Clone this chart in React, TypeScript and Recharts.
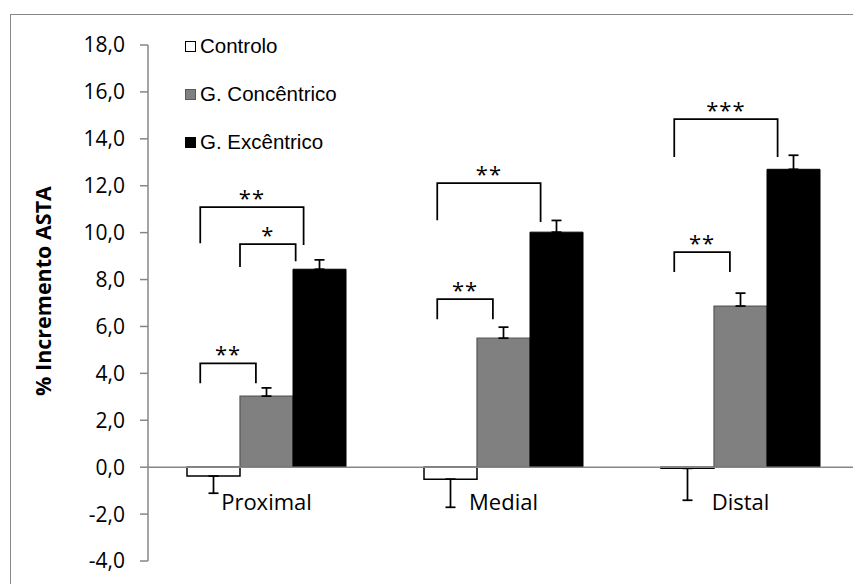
import React from 'react';
import { BarChart, Bar, XAxis, YAxis, ErrorBar, ReferenceLine, Legend, Label, LabelList } from 'recharts';

const categories = ['Proximal', 'Medial', 'Distal'];
const seriesNames = ['Controlo', 'G. Concêntrico', 'G. Excêntrico'];
const controlo = [-0.38, -0.51, -0.05];
const controloErr = [0.73, 1.2, 1.36];
const concentrico = [3.03, 5.5, 6.87];
const concentricoErr = [0.35, 0.47, 0.55];
const excentrico = [8.44, 10.02, 12.7];
const excentricoErr = [0.4, 0.5, 0.6];
const yTicks = [-4, -2, 0, 2, 4, 6, 8, 10, 12, 14, 16, 18];

// significance brackets: category index, compared bars (0 Controlo, 1 Concêntrico, 2 Excêntrico),
// value level of the bracket top and of its left / right leg ends, and the marker text
const brackets = [
  { cat: 0, from: 0, to: 1, top: 4.43, left: 3.58, right: 3.58, label: '**' },
  { cat: 0, from: 1, to: 2, top: 9.51, left: 8.53, right: 8.78, label: '*' },
  { cat: 0, from: 0, to: 2, top: 11.09, left: 9.55, right: 9.47, label: '**' },
  { cat: 1, from: 0, to: 1, top: 7.16, left: 6.31, right: 6.31, label: '**' },
  { cat: 1, from: 0, to: 2, top: 12.11, left: 10.53, right: 10.45, label: '**' },
  { cat: 2, from: 0, to: 1, top: 9.17, left: 8.32, right: 8.32, label: '**' },
  { cat: 2, from: 0, to: 2, top: 14.84, left: 13.22, right: 13.22, label: '***' },
];

const data = categories.map((c, i) => ({
  name: c,
  controlo: controlo[i],
  controloErr: [controloErr[i], 0],
  concentrico: concentrico[i],
  concentricoErr: [0, concentricoErr[i]],
  excentrico: excentrico[i],
  excentricoErr: [0, excentricoErr[i]],
}));

const CAL = '"Open Sans", Lato, sans-serif';
const ARIAL = '"Liberation Sans", Arial, sans-serif';
const AXIS_GREY = '#868686';

const fmt = (v: number) => v.toFixed(1).replace('.', ',');

const renderAnnotations = (props: any) => {
  const vb = props.viewBox || {};
  const index: number = props.index;
  const x: number = vb.x ?? props.x;
  const y: number = vb.y ?? props.y;
  const w: number = vb.width ?? props.width;
  const h: number = vb.height ?? props.height;
  const val = excentrico[index];
  if (!val || !isFinite(x)) return null;
  const ppu = h / val;
  const zeroY = y + h;
  const groupLeft = x - 2 * w;
  const toY = (v: number) => zeroY - v * ppu;
  const leftUnit = (b: any) => (b.from === 0 ? 0.25 : 1.0);
  const rightUnit = (b: any) => (b.to === 1 ? 1.3 : b.from === 1 ? 2.05 : 2.2);
  return (
    <g>
      {brackets
        .filter((b) => b.cat === index)
        .map((b, k) => {
          const x1 = groupLeft + leftUnit(b) * w;
          const x2 = groupLeft + rightUnit(b) * w;
          const yt = toY(b.top);
          return (
            <g key={k}>
              <polyline
                points={`${x1},${toY(b.left)} ${x1},${yt} ${x2},${yt} ${x2},${toY(b.right)}`}
                fill="none"
                stroke="#000"
                strokeWidth={1.75}
              />
              <text
                x={(x1 + x2) / 2}
                y={yt - 1}
                textAnchor="middle"
                fontFamily={CAL}
                fontSize={22}
                fill="#000"
                letterSpacing={1}
              >
                {b.label}
              </text>
            </g>
          );
        })}
      <text
        x={groupLeft + 1.5 * w}
        y={zeroY + 43}
        textAnchor="middle"
        fontFamily={CAL}
        fontSize={22}
        fill="#000"
      >
        {categories[index]}
      </text>
    </g>
  );
};

const legendSwatches = [
  { fill: '#ffffff', stroke: '#000000' },
  { fill: '#808080', stroke: '#595959' },
  { fill: '#000000', stroke: '#000000' },
];

const renderLegend = () => (
  <div style={{ fontFamily: ARIAL, fontSize: 20.5, color: '#000' }}>
    {seriesNames.map((n, i) => (
      <div key={n} style={{ height: 48, display: 'flex', alignItems: 'center' }}>
        <span
          style={{
            display: 'inline-block',
            width: 9,
            height: 9,
            background: legendSwatches[i].fill,
            border: `1.5px solid ${legendSwatches[i].stroke}`,
            marginRight: 4,
          }}
        />
        <span>{n}</span>
      </div>
    ))}
  </div>
);

const renderYTitle = (props: any) => {
  const vb = props.viewBox || {};
  const cy = (vb.y ?? 30) + (vb.height ?? 516) / 2 - 12;
  const cx = 31;
  return (
    <text
      x={cx}
      y={cy}
      transform={`rotate(-90, ${cx}, ${cy})`}
      textAnchor="middle"
      dominantBaseline="central"
      fontFamily={CAL}
      fontWeight="bold"
      fontSize={21.5}
      fill="#000"
    >
      % Incremento ASTA
    </text>
  );
};

export default function App() {
  return (
    <div
      style={{
        position: 'fixed',
        left: 0,
        top: 0,
        width: 853,
        height: 584,
        overflow: 'hidden',
        background: '#fff',
      }}
    >
      <div
        style={{
          position: 'absolute',
          left: 10,
          top: 14,
          width: 880,
          height: 600,
          border: `1px solid ${AXIS_GREY}`,
        }}
      >
        <BarChart
          width={880}
          height={600}
          data={data}
          margin={{ top: 30, right: 32, left: 0, bottom: 54 }}
          barGap={0}
        >
          <XAxis dataKey="name" hide />
          <YAxis
            width={137}
            domain={[-4, 18]}
            ticks={yTicks}
            interval={0}
            allowDataOverflow
            tickFormatter={fmt}
            axisLine={{ stroke: AXIS_GREY, strokeWidth: 1.5 }}
            tickLine={{ stroke: AXIS_GREY, strokeWidth: 1.5 }}
            tickSize={8}
            tickMargin={15}
            tick={{ fill: '#000', fontSize: 21, fontFamily: CAL }}
          >
            <Label content={renderYTitle} />
          </YAxis>
          <Legend
            layout="horizontal"
            verticalAlign="middle"
            align="center"
            wrapperStyle={{ left: 174, top: 7, width: 'auto', height: 'auto' }}
            content={renderLegend}
          />
          <Bar
            dataKey="controlo"
            name={seriesNames[0]}
            fill="#ffffff"
            stroke="#000000"
            strokeWidth={1.5}
            barSize={53}
            isAnimationActive={false}
          >
            <ErrorBar dataKey="controloErr" width={5} stroke="#000" strokeWidth={1.75} direction="y" />
          </Bar>
          <Bar
            dataKey="concentrico"
            name={seriesNames[1]}
            fill="#808080"
            stroke="#595959"
            strokeWidth={1.25}
            barSize={53}
            isAnimationActive={false}
          >
            <ErrorBar dataKey="concentricoErr" width={5} stroke="#000" strokeWidth={1.75} direction="y" />
          </Bar>
          <Bar
            dataKey="excentrico"
            name={seriesNames[2]}
            fill="#000000"
            stroke="#000000"
            strokeWidth={1}
            barSize={53}
            isAnimationActive={false}
          >
            <ErrorBar dataKey="excentricoErr" width={5} stroke="#000" strokeWidth={1.75} direction="y" />
            <LabelList dataKey="excentrico" content={renderAnnotations} />
          </Bar>
          <ReferenceLine y={0} stroke={AXIS_GREY} strokeWidth={1.5} />
        </BarChart>
      </div>
    </div>
  );
}
